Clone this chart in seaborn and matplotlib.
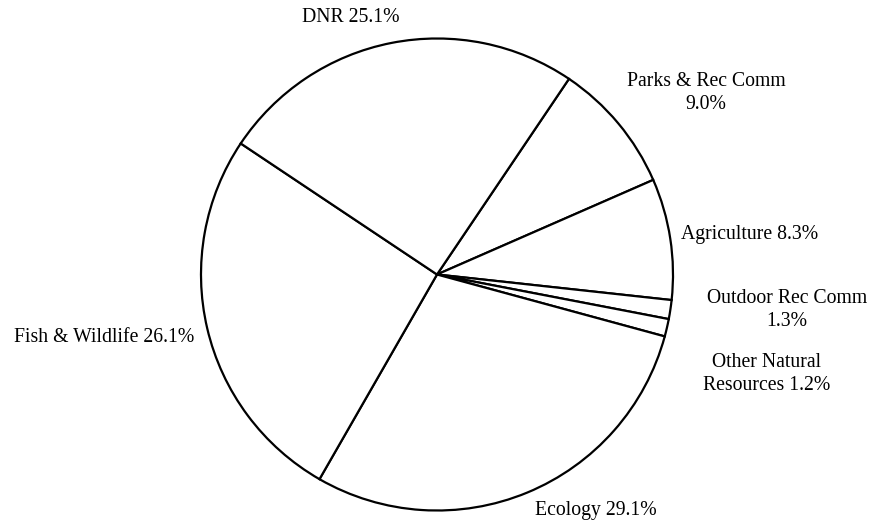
import matplotlib
matplotlib.use("Agg")
import matplotlib.pyplot as plt
import seaborn as sns

# ---- data ----
categories = ["Parks & Rec Comm", "Agriculture", "Outdoor Rec Comm",
              "Other Natural Resources", "Ecology", "Fish & Wildlife", "DNR"]
shares = [9.0, 8.3, 1.3, 1.2, 29.1, 26.1, 25.1]
label_text = ["Parks & Rec Comm\n9.0%", "Agriculture 8.3%", "Outdoor Rec Comm\n1.3%",
              "Other Natural\nResources 1.2%", "Ecology 29.1%",
              "Fish & Wildlife 26.1%", "DNR 25.1%"]

# ---- layout (pixel positions of label centres, from top-left) ----
label_pos = [(706, 93), (750, 234), (787, 310), (767, 374),
             (596, 510), (104, 338), (351, 18)]

sns.set_theme(style="white")
plt.rcParams["font.family"] = ["Liberation Serif", "DejaVu Serif"]

W, H = 880, 527
fig = plt.figure(figsize=(W / 100, H / 100), dpi=100)
ax = fig.add_axes([0, 0, 1, 1])

ax.pie(shares, colors=["white"] * len(shares), startangle=56, counterclock=False,
       center=(437, H - 274.5), radius=236,
       wedgeprops=dict(edgecolor="black", linewidth=1.6))

ax.set_xlim(0, W)
ax.set_ylim(0, H)
ax.set_aspect("auto")
ax.axis("off")

for txt, (px, py) in zip(label_text, label_pos):
    ax.text(px, H - py, txt, ha="center", va="center", fontsize=14.2,
            color="black", linespacing=1.25)

fig.savefig("out.png", dpi=100, facecolor="white")
